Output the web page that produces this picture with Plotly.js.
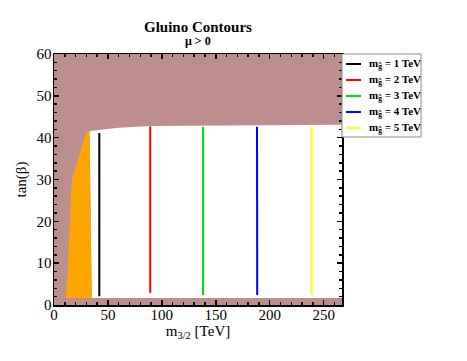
<!DOCTYPE html>
<html>
<head>
<meta charset="utf-8">
<script src="https://cdn.plot.ly/plotly-3.0.1.min.js"></script>
<style>
  html, body { margin: 0; padding: 0; background: #fff; }
  #chart { width: 467px; height: 361px; }
</style>
</head>
<body>
<div id="chart"></div>
<script>
// plot window (m3/2 in TeV, tan beta)
const xRange = [0, 267]
const yRange = [0, 60]

// excluded region fills the whole window, allowed region is drawn on top
const excludedX = [0, 267, 267, 0]
const excludedY = [0, 0, 60, 60]

// allowed (white) region boundary
const allowedX = [35, 267, 267, 130, 90, 60, 33]
const allowedY = [1.7, 1.7, 43.1, 43.0, 42.8, 42.4, 41.6]

// orange band at low m3/2
const orangeX = [11, 13, 15.5, 16.7, 22.5, 30, 32.8, 34, 35]
const orangeY = [1.7, 9, 25, 30, 35, 41.5, 41.5, 20, 1.7]

// gluino mass contours
const gluinoNames = ['1 TeV', '2 TeV', '3 TeV', '4 TeV', '5 TeV']
const gluinoColors = ['black', 'red', '#00e000', 'blue', '#ffff00']
const gluinoX = [[42, 42], [89.2, 89.2], [138.2, 138.2], [188.4, 188.2], [238.9, 238.9]]
const gluinoY = [[2.1, 41.1], [2.9, 42.7], [2.4, 42.6], [2.4, 42.6], [2.4, 42.6]]

const serif = "'Liberation Serif', 'Times New Roman', serif"

// plot box in pixels, used to place the hand made legend
const W = 467, H = 361
const M = {l: 54, r: 125, t: 54, b: 56}
const pw = W - M.l - M.r, ph = H - M.t - M.b
const px = x => (x - M.l) / pw
const py = y => (H - M.b - y) / ph

let traces = [
    {
        x: excludedX, y: excludedY, type: 'scatter', mode: 'lines',
        fill: 'toself', fillcolor: 'rgb(188,142,142)', line: {width: 0},
        showlegend: false, hoverinfo: 'skip'
    },
    {
        x: allowedX, y: allowedY, type: 'scatter', mode: 'lines',
        fill: 'toself', fillcolor: 'white', line: {width: 0},
        showlegend: false, hoverinfo: 'skip'
    },
    {
        x: orangeX, y: orangeY, type: 'scatter', mode: 'lines',
        fill: 'toself', fillcolor: '#ffa500', line: {width: 0},
        showlegend: false, hoverinfo: 'skip'
    }
]

let shapes = [{
    type: 'rect', xref: 'paper', yref: 'paper',
    x0: px(342), x1: px(421), y0: py(137), y1: py(54),
    line: {color: '#888', width: 1}, fillcolor: 'white', layer: 'above'
}]
let annotations = [
    {
        text: '<b>Gluino Contours</b>', xref: 'paper', yref: 'paper',
        x: 0.5, y: py(27), xanchor: 'center', yanchor: 'middle', showarrow: false,
        font: {family: serif, size: 15, color: 'black'}
    },
    {
        text: '<b>μ > 0</b>', xref: 'paper', yref: 'paper',
        x: 0.5, y: py(41), xanchor: 'center', yanchor: 'middle', showarrow: false,
        font: {family: serif, size: 12, color: 'black'}
    }
]

gluinoNames.forEach((nm, i) => {
    traces.push({
        x: gluinoX[i], y: gluinoY[i], type: 'scatter', mode: 'lines',
        name: nm, showlegend: false,
        line: {color: gluinoColors[i], width: 2}
    })
    const ly = 64 + i * 16
    shapes.push({
        type: 'line', xref: 'paper', yref: 'paper',
        x0: px(346), x1: px(361), y0: py(ly), y1: py(ly),
        line: {color: gluinoColors[i], width: 2}, layer: 'above'
    })
    annotations.push({
        text: `<b>m<sub>g̃</sub> = ${nm}</b>`, xref: 'paper', yref: 'paper',
        x: px(367), y: py(ly), xanchor: 'left', yanchor: 'middle', showarrow: false,
        font: {family: serif, size: 11, color: 'black'}
    })
})

const axisBase = {
    showline: true, linecolor: 'black', linewidth: 1.5, mirror: 'allticks',
    ticks: 'inside', ticklen: 5, tickwidth: 1.5, tickcolor: 'black',
    showgrid: false, zeroline: false,
    tickfont: {family: serif, size: 15, color: 'black'}
}

let layout = {
    width: W, height: H,
    margin: M,
    paper_bgcolor: 'white', plot_bgcolor: 'white',
    font: {family: serif, color: 'black'},
    showlegend: false,
    xaxis: Object.assign({}, axisBase, {
        range: xRange, dtick: 50, ticklabelstandoff: -5,
        minor: {dtick: 10, ticks: 'inside', ticklen: 3, tickwidth: 1.5, tickcolor: 'black'},
        title: {text: 'm<sub>3/2</sub> [TeV]', font: {family: serif, size: 15}, standoff: 0}
    }),
    yaxis: Object.assign({}, axisBase, {
        range: yRange, dtick: 10, ticklabelstandoff: -2,
        minor: {dtick: 2, ticks: 'inside', ticklen: 3, tickwidth: 1.5, tickcolor: 'black'},
        title: {text: 'tan(β)', font: {family: serif, size: 15}, standoff: 6}
    }),
    shapes: shapes,
    annotations: annotations
}

Plotly.newPlot('chart', traces, layout, {displayModeBar: false, staticPlot: true})
</script>
</body>
</html>
